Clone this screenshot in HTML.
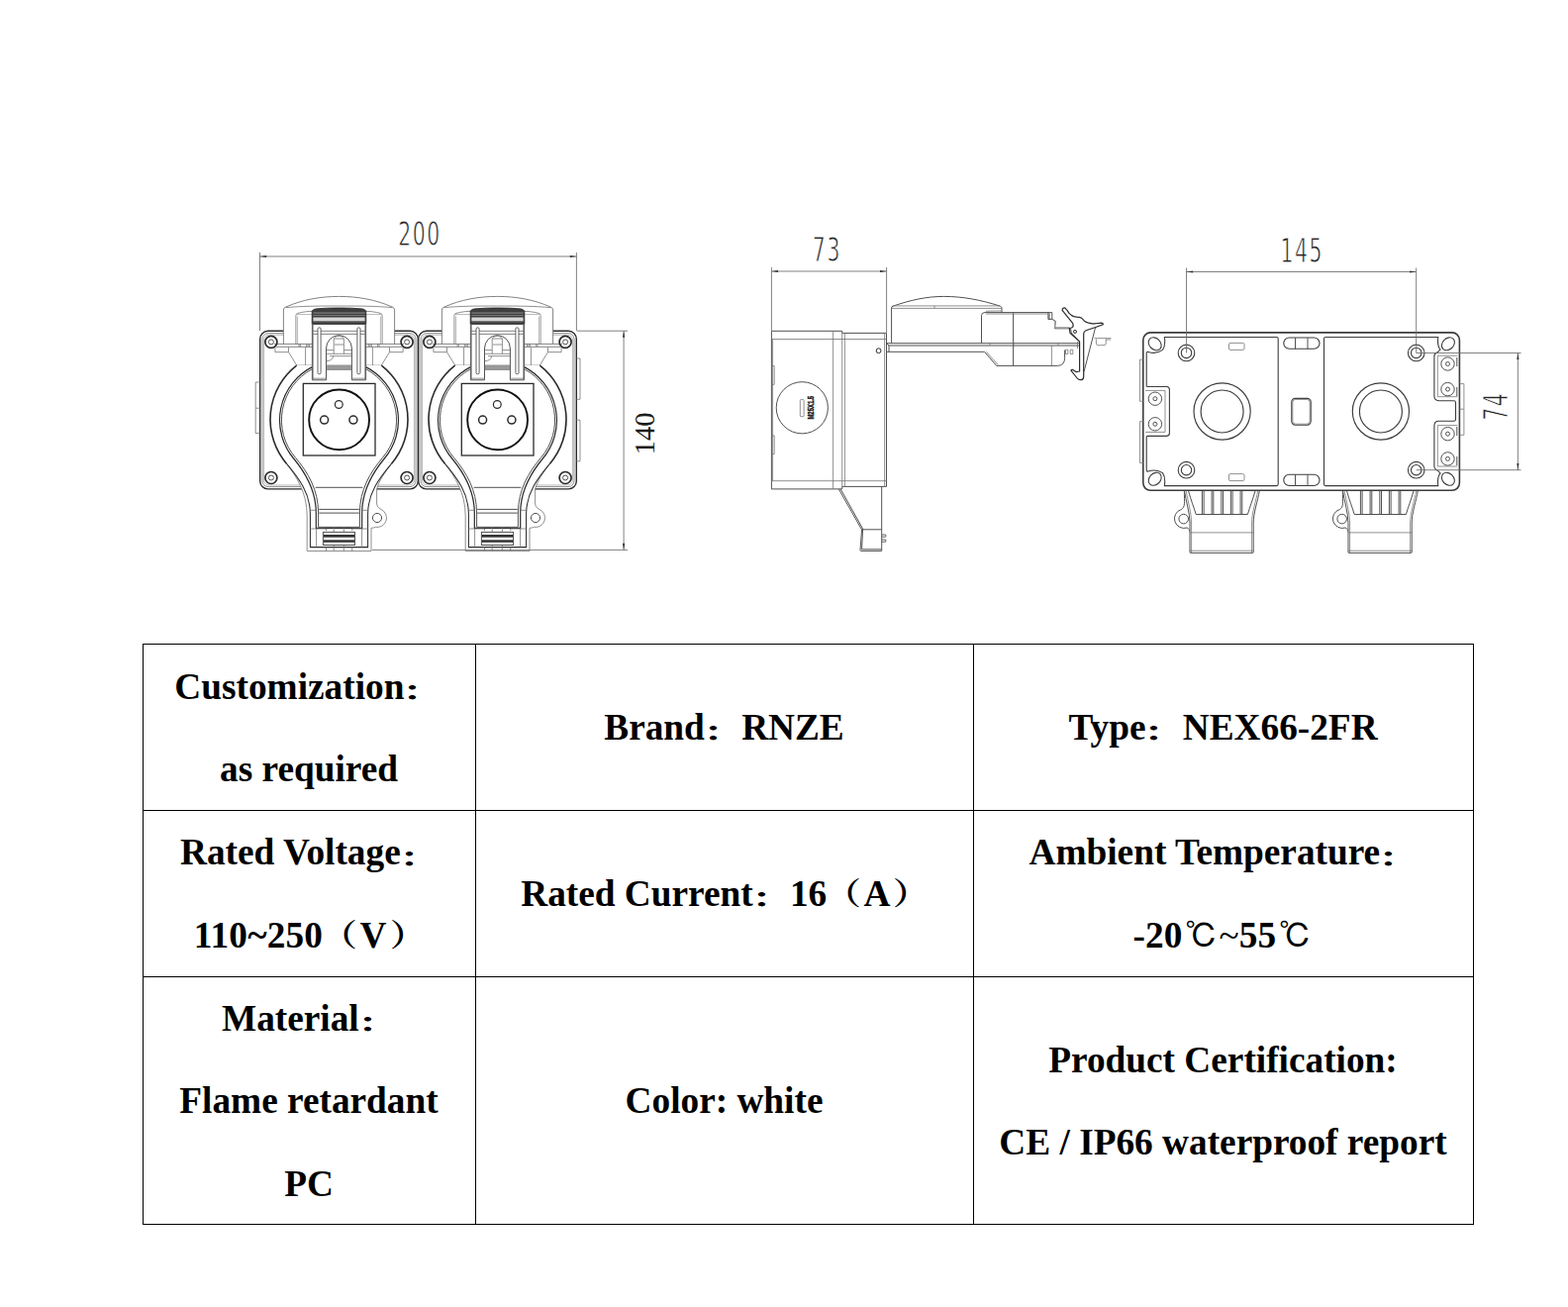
<!DOCTYPE html>
<html lang="en">
<head>
<meta charset="utf-8">
<title>NEX66-2FR dimensions and specifications</title>
<style>
html,body{margin:0;padding:0;background:#fff}
body{width:1584px;height:1320px;position:relative;overflow:hidden;font-family:"Liberation Serif","Noto Serif CJK SC",serif}
svg{position:absolute;left:0;top:0}
.k,.m,.t,.t2,.d{fill:none}
.k{stroke:#2b2b2b;stroke-width:1.4}
.m{stroke:#505050;stroke-width:1}
.t{stroke:#747474;stroke-width:.8}
.t2{stroke:#9a9a9a;stroke-width:.7}
.d{stroke:#6c6c6c;stroke-width:.85}
.bk .k{stroke:#3c3c3c}
.cad{font-family:"DejaVu Sans",sans-serif;fill:#262626;stroke:#fff;stroke-width:.9px}
.ser{font-family:"Liberation Serif",serif;fill:#1c1c1c}
table{position:absolute;left:144px;top:650px;border-collapse:collapse;table-layout:fixed;width:1345px}
td{border:1px solid #000;padding:0;text-align:center;vertical-align:top;font-weight:bold;font-size:37.3px;line-height:83px;color:#000;white-space:nowrap}
td div{height:83px;position:relative;top:.3px;left:-.5px}
td div.a1{top:.9px}
td div.l1{top:0}
td div.l2{top:-.1px}
td.u div{top:-.3px;left:-.5px}
td.u2 div{top:.5px;left:-.5px}
.c,.p,.q,.g{font-family:"Noto Serif CJK SC","Noto Sans CJK SC",serif;display:inline-block;width:37.3px;text-align:left;line-height:1;position:relative;transform-origin:0 50%}
.c{font-size:25px;transform:translateX(-2.3px) scaleX(1.6);top:1.3px}
.p,.q{font-size:31px;top:-2px}
.p{transform:translateX(-2.2px) scaleX(1.2)}
.q{transform:translateX(2.7px) scaleX(1.2)}
.g{font-family:"IPAGothic","WenQuanYi Zen Hei","Noto Sans CJK SC",sans-serif;font-weight:normal;font-size:33px;top:0px;transform:translateX(3px)}
.n{font-weight:normal}
</style>
</head>
<body>
<svg width="1584" height="640" viewBox="0 0 1584 640">
<g id="front">
<g id="sock1">
<rect class="k" x="262.7" y="334.3" width="159.6" height="159.6" rx="8"/>
<rect class="t" x="265" y="336.6" width="155" height="155" rx="6"/>
<rect class="t2" x="266.6" y="338.2" width="151.8" height="151.8" rx="5"/>
<path class="t" d="M289.6,468.4 C299,481 310.2,497 310.2,521 V556.5 H375 V533.3 Q377.4,533.2 379.4,532.3 A9.4,9.4 0 0 0 385,514.5 Q380.6,512.4 380.6,508 V494 C382.5,486 389,477 395.4,468.4 Z" style="fill:#fff"/>
<circle class="m" cx="381" cy="523" r="4.6"/>
<path class="t" d="M286.4,347.4 V313 Q286.4,310.9 288.6,310.1 C306,302.4 324,299.4 342.5,299.4 C361,299.4 379,302.4 396.4,310.1 Q398.6,310.9 398.6,313 V347.4" style="stroke-width:.9;fill:#fff"/>
<path class="t" d="M288.5,310.6 C305,309.2 320,309 342.5,309 C365,309 380,309.2 396.5,310.6"/>
<path class="t" d="M298.9,347.4 V318.6 Q298.9,316.8 301,316.3 C306,315 311,314.4 315.4,314.3 M386.1,347.4 V318.6 Q386.1,316.8 384,316.3 C379,315 374,314.4 369.6,314.3"/>
<path class="t2" d="M300.6,347.4 V319.5 M384.4,347.4 V319.5 M300,317.6 H315 M370,317.6 H385"/>
<path d="M315.2,327.3 V314.2 Q316,312.4 319,311.9 C334,310.6 351,310.6 366,311.9 Q369,312.4 369.8,314.2 V327.3 Z" style="fill:#3e3e3e;stroke:#222;stroke-width:.8"/>
<rect x="316.4" y="320.5" width="52.2" height="3.6" style="fill:#d6d6d6"/>
<rect x="316.4" y="315.6" width="52.2" height=".9" style="fill:#9a9a9a"/>
<rect x="316.4" y="318" width="52.2" height=".8" style="fill:#8a8a8a"/>
<rect x="316.4" y="324.1" width="52.2" height="1.2" style="fill:#777"/>
<path class="t" d="M277.0,347.4 H315.4 M279.0,350.3 H315.4" style="stroke-width:.9"/>
<path class="t" d="M277.9,350.8 V355.6 H291.5 L299.8,369.1 H315.4 M308.6,350.8 V369.1"/>
<path class="t" d="M291.5,350.8 V355.6 M302.0,347.4 V350.3 M303.4,347.4 V350.3 M309.6,347.4 V350.3 M311.0,347.4 V350.3 M312.4,347.4 V350.3"/>
<path class="t" d="M408.0,347.4 H369.6 M406.0,350.3 H369.6" style="stroke-width:.9"/>
<path class="t" d="M407.1,350.8 V355.6 H393.5 L385.2,369.1 H369.6 M376.4,350.8 V369.1"/>
<path class="t" d="M393.5,350.8 V355.6 M383.0,347.4 V350.3 M381.6,347.4 V350.3 M375.4,347.4 V350.3 M374.0,347.4 V350.3 M372.6,347.4 V350.3"/>
<path d="M299.6,369.1 A69,69 0 0 0 289.6,468.4 C301.5,482.5 313.4,498 313.4,519 V552.6 H371.6 V519 C371.6,498 383.5,482.5 395.4,468.4 A69,69 0 0 0 385.4,369.1 Z" style="fill:#fff;stroke:none"/>
<path class="k" d="M299.6,369.1 A69,69 0 0 0 289.6,468.4 M395.4,468.4 A69,69 0 0 0 385.4,369.1" style="stroke-width:1.6"/>
<path class="k" d="M289.6,468.4 C301.5,482.5 313.4,498 313.4,519 V552.6 H371.6 V519 C371.6,498 383.5,482.5 395.4,468.4" style="stroke-width:1.05"/>
<path class="k" d="M315.4,370.6 A60.3,60.3 0 0 0 297,463.5 C309,478 319.3,495 319.3,518 V533.4 H365.7 V518 C365.7,495 376,478 388,463.5 A60.3,60.3 0 0 0 369.6,370.6" style="stroke-width:1.2"/>
<path class="m" d="M315.4,372.7 A58.4,58.4 0 0 0 298.8,462.6 C311,477 321.6,495 321.6,518 V532.3 H363.4 V518 C363.4,495 374,477 386.2,462.6 A58.4,58.4 0 0 0 369.6,372.7"/>
<path class="m" d="M315.4,327.5 H369.6 V383.8 H355.4 V352 A12.95,13.4 0 0 0 329.5,352 V383.8 H315.4 Z" style="fill:#fff"/>
<path class="t" d="M316.3,328 V383 M368.7,328 V383 M315.4,382.2 H329.5 M355.4,382.2 H369.6"/>
<path class="t" d="M315.4,334.3 H321 M324.1,334.3 H360.9 M364,334.3 H369.6 M315.4,337.4 H321 M324.1,337.4 H360.9 M364,337.4 H369.6" style="stroke-width:.9"/>
<rect class="m" x="321" y="330.9" width="3.1" height="46.8" rx="1.2" style="stroke-width:.9"/>
<rect class="m" x="360.9" y="330.9" width="3.1" height="46.8" rx="1.2" style="stroke-width:.9"/>
<path class="t" d="M337.2,357.3 V343 Q337.2,339.4 342.4,339.4 Q347.4,339.4 347.4,343 V357.3 M337.5,342 H347.2 M338,348 H347 M329.5,353.6 H337.2 M347.4,353.6 H355.4 M329.5,357.3 H355.4 M333,359.6 H355.4 M329.5,364.6 Q336,364.6 336.6,359.6"/>
<rect x="329.9" y="369.2" width="25.1" height="4" style="fill:#9a9a9a"/>
<path class="t" d="M329.5,369 H355.4 M329.5,373.4 H355.4"/>
<rect class="k" x="306.3" y="387.4" width="72.7" height="72.6" style="stroke-width:1.3;fill:#fff"/>
<circle cx="342.6" cy="423.9" r="30.4" style="stroke:#111;stroke-width:1.9;fill:none"/>
<circle class="k" cx="342.3" cy="408.5" r="3.9" style="stroke-width:1.2"/>
<circle class="k" cx="327.6" cy="424.1" r="4" style="stroke-width:1.5"/>
<circle class="k" cx="356.9" cy="424.1" r="4" style="stroke-width:1.5"/>
<circle class="k" cx="273.9" cy="345.4" r="6" style="stroke-width:1.7"/>
<circle class="m" cx="273.9" cy="345.4" r="2.5"/>
<circle class="k" cx="411.1" cy="345.4" r="6" style="stroke-width:1.7"/>
<circle class="m" cx="411.1" cy="345.4" r="2.5"/>
<circle class="k" cx="273.9" cy="482.5" r="6" style="stroke-width:1.7"/>
<circle class="m" cx="273.9" cy="482.5" r="2.5"/>
<circle class="k" cx="411.1" cy="482.5" r="6" style="stroke-width:1.7"/>
<circle class="m" cx="411.1" cy="482.5" r="2.5"/>
<path class="m" d="M318.7,492.3 H366.3 M322.2,514.4 H362.8 M322.2,518.1 H362.8"/>
<path class="t" d="M313.4,515.3 H319.3 M365.7,515.3 H371.6 M313.4,534 H329.5 V536 M371.6,534 H355.7 V536 M319.6,534 V552.6 M365.6,534 V552.6 M337.2,532.4 V537.4 M347.4,532.4 V537.4 M337.2,550.5 V556.5 M347.4,550.5 V556.5 M329.5,552.6 V556.5 M355.7,552.6 V556.5"/>
<rect class="m" x="326.4" y="537.4" width="32.1" height="13.1" style="fill:#fff"/>
<rect x="326.9" y="540" width="31.1" height="2.7" style="fill:#333"/>
<rect x="326.9" y="545.3" width="31.1" height="2.5" style="fill:#333"/>
</g>
<g transform="translate(160,0)">
<rect class="k" x="262.7" y="334.3" width="159.6" height="159.6" rx="8"/>
<rect class="t" x="265" y="336.6" width="155" height="155" rx="6"/>
<rect class="t2" x="266.6" y="338.2" width="151.8" height="151.8" rx="5"/>
<path class="t" d="M289.6,468.4 C299,481 310.2,497 310.2,521 V556.5 H375 V533.3 Q377.4,533.2 379.4,532.3 A9.4,9.4 0 0 0 385,514.5 Q380.6,512.4 380.6,508 V494 C382.5,486 389,477 395.4,468.4 Z" style="fill:#fff"/>
<circle class="m" cx="381" cy="523" r="4.6"/>
<path class="t" d="M286.4,347.4 V313 Q286.4,310.9 288.6,310.1 C306,302.4 324,299.4 342.5,299.4 C361,299.4 379,302.4 396.4,310.1 Q398.6,310.9 398.6,313 V347.4" style="stroke-width:.9;fill:#fff"/>
<path class="t" d="M288.5,310.6 C305,309.2 320,309 342.5,309 C365,309 380,309.2 396.5,310.6"/>
<path class="t" d="M298.9,347.4 V318.6 Q298.9,316.8 301,316.3 C306,315 311,314.4 315.4,314.3 M386.1,347.4 V318.6 Q386.1,316.8 384,316.3 C379,315 374,314.4 369.6,314.3"/>
<path class="t2" d="M300.6,347.4 V319.5 M384.4,347.4 V319.5 M300,317.6 H315 M370,317.6 H385"/>
<path d="M315.2,327.3 V314.2 Q316,312.4 319,311.9 C334,310.6 351,310.6 366,311.9 Q369,312.4 369.8,314.2 V327.3 Z" style="fill:#3e3e3e;stroke:#222;stroke-width:.8"/>
<rect x="316.4" y="320.5" width="52.2" height="3.6" style="fill:#d6d6d6"/>
<rect x="316.4" y="315.6" width="52.2" height=".9" style="fill:#9a9a9a"/>
<rect x="316.4" y="318" width="52.2" height=".8" style="fill:#8a8a8a"/>
<rect x="316.4" y="324.1" width="52.2" height="1.2" style="fill:#777"/>
<path class="t" d="M277.0,347.4 H315.4 M279.0,350.3 H315.4" style="stroke-width:.9"/>
<path class="t" d="M277.9,350.8 V355.6 H291.5 L299.8,369.1 H315.4 M308.6,350.8 V369.1"/>
<path class="t" d="M291.5,350.8 V355.6 M302.0,347.4 V350.3 M303.4,347.4 V350.3 M309.6,347.4 V350.3 M311.0,347.4 V350.3 M312.4,347.4 V350.3"/>
<path class="t" d="M408.0,347.4 H369.6 M406.0,350.3 H369.6" style="stroke-width:.9"/>
<path class="t" d="M407.1,350.8 V355.6 H393.5 L385.2,369.1 H369.6 M376.4,350.8 V369.1"/>
<path class="t" d="M393.5,350.8 V355.6 M383.0,347.4 V350.3 M381.6,347.4 V350.3 M375.4,347.4 V350.3 M374.0,347.4 V350.3 M372.6,347.4 V350.3"/>
<path d="M299.6,369.1 A69,69 0 0 0 289.6,468.4 C301.5,482.5 313.4,498 313.4,519 V552.6 H371.6 V519 C371.6,498 383.5,482.5 395.4,468.4 A69,69 0 0 0 385.4,369.1 Z" style="fill:#fff;stroke:none"/>
<path class="k" d="M299.6,369.1 A69,69 0 0 0 289.6,468.4 M395.4,468.4 A69,69 0 0 0 385.4,369.1" style="stroke-width:1.6"/>
<path class="k" d="M289.6,468.4 C301.5,482.5 313.4,498 313.4,519 V552.6 H371.6 V519 C371.6,498 383.5,482.5 395.4,468.4" style="stroke-width:1.05"/>
<path class="k" d="M315.4,370.6 A60.3,60.3 0 0 0 297,463.5 C309,478 319.3,495 319.3,518 V533.4 H365.7 V518 C365.7,495 376,478 388,463.5 A60.3,60.3 0 0 0 369.6,370.6" style="stroke-width:1.2"/>
<path class="m" d="M315.4,372.7 A58.4,58.4 0 0 0 298.8,462.6 C311,477 321.6,495 321.6,518 V532.3 H363.4 V518 C363.4,495 374,477 386.2,462.6 A58.4,58.4 0 0 0 369.6,372.7"/>
<path class="m" d="M315.4,327.5 H369.6 V383.8 H355.4 V352 A12.95,13.4 0 0 0 329.5,352 V383.8 H315.4 Z" style="fill:#fff"/>
<path class="t" d="M316.3,328 V383 M368.7,328 V383 M315.4,382.2 H329.5 M355.4,382.2 H369.6"/>
<path class="t" d="M315.4,334.3 H321 M324.1,334.3 H360.9 M364,334.3 H369.6 M315.4,337.4 H321 M324.1,337.4 H360.9 M364,337.4 H369.6" style="stroke-width:.9"/>
<rect class="m" x="321" y="330.9" width="3.1" height="46.8" rx="1.2" style="stroke-width:.9"/>
<rect class="m" x="360.9" y="330.9" width="3.1" height="46.8" rx="1.2" style="stroke-width:.9"/>
<path class="t" d="M337.2,357.3 V343 Q337.2,339.4 342.4,339.4 Q347.4,339.4 347.4,343 V357.3 M337.5,342 H347.2 M338,348 H347 M329.5,353.6 H337.2 M347.4,353.6 H355.4 M329.5,357.3 H355.4 M333,359.6 H355.4 M329.5,364.6 Q336,364.6 336.6,359.6"/>
<rect x="329.9" y="369.2" width="25.1" height="4" style="fill:#9a9a9a"/>
<path class="t" d="M329.5,369 H355.4 M329.5,373.4 H355.4"/>
<rect class="k" x="306.3" y="387.4" width="72.7" height="72.6" style="stroke-width:1.3;fill:#fff"/>
<circle cx="342.6" cy="423.9" r="30.4" style="stroke:#111;stroke-width:1.9;fill:none"/>
<circle class="k" cx="342.3" cy="408.5" r="3.9" style="stroke-width:1.2"/>
<circle class="k" cx="327.6" cy="424.1" r="4" style="stroke-width:1.5"/>
<circle class="k" cx="356.9" cy="424.1" r="4" style="stroke-width:1.5"/>
<circle class="k" cx="273.9" cy="345.4" r="6" style="stroke-width:1.7"/>
<circle class="m" cx="273.9" cy="345.4" r="2.5"/>
<circle class="k" cx="411.1" cy="345.4" r="6" style="stroke-width:1.7"/>
<circle class="m" cx="411.1" cy="345.4" r="2.5"/>
<circle class="k" cx="273.9" cy="482.5" r="6" style="stroke-width:1.7"/>
<circle class="m" cx="273.9" cy="482.5" r="2.5"/>
<circle class="k" cx="411.1" cy="482.5" r="6" style="stroke-width:1.7"/>
<circle class="m" cx="411.1" cy="482.5" r="2.5"/>
<path class="m" d="M318.7,492.3 H366.3 M322.2,514.4 H362.8 M322.2,518.1 H362.8"/>
<path class="t" d="M313.4,515.3 H319.3 M365.7,515.3 H371.6 M313.4,534 H329.5 V536 M371.6,534 H355.7 V536 M319.6,534 V552.6 M365.6,534 V552.6 M337.2,532.4 V537.4 M347.4,532.4 V537.4 M337.2,550.5 V556.5 M347.4,550.5 V556.5 M329.5,552.6 V556.5 M355.7,552.6 V556.5"/>
<rect class="m" x="326.4" y="537.4" width="32.1" height="13.1" style="fill:#fff"/>
<rect x="326.9" y="540" width="31.1" height="2.7" style="fill:#333"/>
<rect x="326.9" y="545.3" width="31.1" height="2.5" style="fill:#333"/>
</g>
<path class="t" d="M262.7,386 H258.2 V437.6 H262.7 M258.2,412.2 H262.7"/>
<path class="t" d="M582.3,362 H586 V403.3 H582.3 M582.3,424.2 H586 V465.8 H582.3"/>
</g>
<g id="side">
<path class="m" d="M779.4,334.3 H850.7 V336.4 H895.5 V491.4 H850.7 V493.9 H779.4 Z"/>
<path class="t" d="M779.4,342.5 H895.5 M779.4,485.7 H895.5 M841.6,334.3 V493.9 M850.7,336.4 V491.4 M853.4,336.4 V491.4 M893.6,336.4 V491.4 M780.6,342.5 V485.7"/>
<path class="t" d="M779.4,369.5 H782.2 V388.3 H779.4 M779.4,439.9 H782.2 V458.6 H779.4"/>
<circle class="m" cx="810.3" cy="411.8" r="26.1"/>
<rect class="t" x="808.3" y="403.6" width="3.8" height="17.1" rx=".8"/>
<text transform="translate(821.6,423.6) rotate(-90) scale(.62,1)" font-family="'Liberation Sans',sans-serif" font-weight="bold" font-size="9.6" style="fill:#111;stroke:#111;stroke-width:.45">M25X1.5</text>
<circle class="k" cx="887.6" cy="354.2" r="2.4" style="stroke-width:1"/>
<path class="m" d="M847.3,493.9 L870.6,535 M849.2,493.9 L872,534.8 M870.6,535 L869,555.5 Q869,556.4 870,556.4 H890.7 V491.4 M870.6,534.8 H890.7 M871.5,535 L870.6,554.8 H890.7"/>
<path class="m" d="M890.7,540 H894.6 Q895.4,541 894.6,542.2 H890.7 M890.7,545 H894.6 Q895.4,546 894.6,547.2 H890.7" style="stroke-width:.9"/>
<path class="m" d="M900.6,346.7 V311 Q900.6,309.6 902,309.2 C920,303 936,299.4 953.6,299.4 C972,299.4 990,302.6 1010.5,309.2 Q1012,309.8 1012,311.4 V315.6"/>
<path class="t" d="M901.5,308.9 H1010 M900.6,311.4 H1012 M944,308.9 V311.4"/>
<path class="m" d="M991.5,346.7 V318.5 Q991.5,315.6 995,315.6 H1062.8 V322.4 H1058.9 V315.6 M1060,316.2 V322.4 M1062.8,322.4 L1066.2,324.2 L1065.6,331.8 H1080.2 M1023.6,315.6 V369.4"/>
<path class="t" d="M996,317 H1058.9 M996,314.4 Q998,314 1012,314"/>
<path d="M1066,331 H1080" style="stroke:#999;stroke-width:1.6;fill:none"/>
<path d="M1065.6,324.5 V331" style="stroke:#999;stroke-width:1.2;fill:none"/>
<path class="m" d="M895.6,346.7 H1090.6 M898,349 H1090.6 M895.6,346.7 L898,349 V355.3 M895.6,355.3 H994.5 L1006.7,369.4 H1068.5 Q1075.6,369 1075.6,361.5 V353.5"/>
<path class="t" d="M996.4,355.3 L1008.2,368.6 M1062.4,349 V369.4 M1000,347 V349 M1024,347 V349 M1069,347 V349 M1088.5,345 V352"/>
<path class="t" d="M1076.5,353.2 H1078.8 V357.6 H1076.5 Z M1081.2,353.2 H1083.8 V357.6 H1081.2 Z"/>
<path class="k" d="M1073.1,313.3 Q1073.5,310.5 1075.8,310.9 L1078.2,313.6 L1080,316.4 L1082.3,318.4 L1084.6,319.6 L1087.7,320.1 L1090,320.3 L1092.5,321.1 L1094,322.6 L1095.2,323.9 L1097.5,325.4 L1100,326.2 L1103,326.8 L1105.5,326.9 L1109,326.5 L1112.3,326.2 Q1114.8,326.4 1114.3,327.8 L1108.2,330 L1097,333.8 Q1094.8,334.6 1094.7,337 V380.2 Q1094.6,383.6 1092.3,383.6 Q1089.6,383.8 1088.2,382 L1081.9,374.2 Q1082.4,373 1083.8,373.4 L1087,375.6 L1090.6,375 V345 L1081,336.2 L1080.3,331.4 L1082.6,331 L1084.2,329.6 L1083.8,326.6 Z" style="stroke-width:1.2;stroke-linejoin:round"/>
<path class="m" d="M1106.6,330.6 L1095,375.5 M1081.6,332 L1082.2,336 L1089.5,343.5"/>
<circle class="k" cx="1086" cy="334.9" r="1.5" style="stroke-width:1"/>
<path class="t" d="M1105.5,341.6 H1122.5 M1107.4,342.4 V347 Q1107.6,348.7 1109.4,348.7 H1115 Q1117,348.7 1117.2,347 V342.4 M1117.2,343 H1122"/>
</g>
<g id="back" class="bk">
<g>
<path class="m" d="M1196.4,495.3 C1196.4,508 1197.6,512 1193.2,514.6 A9.3,9.3 0 1 0 1199,533 C1200.6,533.2 1201.6,535 1202.4,537.7" style="fill:#fff"/>
<circle class="m" cx="1195.7" cy="524.1" r="4.8"/>
<path class="m" d="M1196.4,495.3 C1198,506 1202,518 1202,528 V558 Q1202,558.4 1203,558.4 H1265.2 Q1266.2,558.4 1266.2,558 V528 C1266.2,518 1270.6,506 1272.4,495.3" style="fill:#fff"/>
<path class="t" d="M1198,495.3 C1200,506 1203.6,518 1203.6,528 V558 M1270.8,495.3 C1268.8,506 1264.6,518 1264.6,528 V558 M1202,537.9 H1266.2 M1202,556.2 H1266.2"/>
<path class="m" d="M1200.4,495.3 C1203,505 1206,512 1208.2,519.5 H1260.4 C1262.6,512 1265.4,505 1268.2,495.3"/>
<path class="m" d="M1214.4,495.3 V519.5 M1216.1,495.3 V519.5 M1224.1,495.3 V519.5 M1225.8,495.3 V519.5 M1233.8,495.3 V519.5 M1235.5,495.3 V519.5 M1243.4,495.3 V519.5 M1245.1,495.3 V519.5 M1253.1,495.3 V519.5 M1254.8,495.3 V519.5"/>
</g>
<g transform="translate(160,0)">
<path class="m" d="M1196.4,495.3 C1196.4,508 1197.6,512 1193.2,514.6 A9.3,9.3 0 1 0 1199,533 C1200.6,533.2 1201.6,535 1202.4,537.7" style="fill:#fff"/>
<circle class="m" cx="1195.7" cy="524.1" r="4.8"/>
<path class="m" d="M1196.4,495.3 C1198,506 1202,518 1202,528 V558 Q1202,558.4 1203,558.4 H1265.2 Q1266.2,558.4 1266.2,558 V528 C1266.2,518 1270.6,506 1272.4,495.3" style="fill:#fff"/>
<path class="t" d="M1198,495.3 C1200,506 1203.6,518 1203.6,528 V558 M1270.8,495.3 C1268.8,506 1264.6,518 1264.6,528 V558 M1202,537.9 H1266.2 M1202,556.2 H1266.2"/>
<path class="m" d="M1200.4,495.3 C1203,505 1206,512 1208.2,519.5 H1260.4 C1262.6,512 1265.4,505 1268.2,495.3"/>
<path class="m" d="M1214.4,495.3 V519.5 M1216.1,495.3 V519.5 M1224.1,495.3 V519.5 M1225.8,495.3 V519.5 M1233.8,495.3 V519.5 M1235.5,495.3 V519.5 M1243.4,495.3 V519.5 M1245.1,495.3 V519.5 M1253.1,495.3 V519.5 M1254.8,495.3 V519.5"/>
</g>
<rect class="k" x="1154.8" y="335.9" width="319.6" height="159.4" rx="7.5" style="stroke-width:1.6;fill:#fff"/>
<path class="t" d="M1154.8,363.2 H1151.4 V405.2 H1154.8 M1154.8,425.7 H1151.4 V467.4 H1154.8"/>
<path class="t" d="M1474.4,387.6 H1478.9 V439.3 H1474.4 M1474.4,413.2 H1478.9"/>
<path class="k" d="M1176.4,340.5 H1289.6 Q1291.2,340.5 1291.2,342 V489 Q1291.2,490.6 1289.6,490.6 H1176.4 Q1177.6,482 1174.5,477.6 Q1168,473.4 1160,476 Q1158.2,476.6 1158.2,474 V441.6 Q1158.2,440.4 1159.4,440.4 H1178.6 Q1181.4,440.2 1181.4,437.6 V393.4 Q1181.4,390.6 1178.6,390.5 H1159.4 Q1158.2,390.5 1158.2,389.4 V357 Q1158.2,355 1160,355.4 Q1168,358 1174.5,353.4 Q1177.6,349 1176.4,340.5 Z" style="stroke-width:1.1"/>
<path class="t" d="M1157,394.4 H1177 V436.4 H1157"/>
<circle class="m" cx="1166.9" cy="402.7" r="6.7"/><circle class="m" cx="1166.9" cy="402.7" r="2"/>
<circle class="m" cx="1166.9" cy="428.3" r="6.7"/><circle class="m" cx="1166.9" cy="428.3" r="2"/>
<ellipse class="k" cx="1166.7" cy="347.3" rx="5.6" ry="7.3" transform="rotate(-45 1166.7 347.3)" style="stroke-width:1.1"/>
<ellipse class="k" cx="1462.9" cy="347.3" rx="5.6" ry="7.3" transform="rotate(45 1462.9 347.3)" style="stroke-width:1.1"/>
<ellipse class="k" cx="1166.7" cy="483.8" rx="5.6" ry="7.3" transform="rotate(45 1166.7 483.8)" style="stroke-width:1.1"/>
<ellipse class="k" cx="1462.9" cy="483.8" rx="5.6" ry="7.3" transform="rotate(-45 1462.9 483.8)" style="stroke-width:1.1"/>
<circle class="k" cx="1198.5" cy="356.4" r="8.3" style="stroke-width:1.1"/><circle class="k" cx="1198.5" cy="356.4" r="5.2" style="stroke-width:1.1"/>
<circle class="k" cx="1430.7" cy="356.4" r="8.3" style="stroke-width:1.1"/><circle class="k" cx="1430.7" cy="356.4" r="5.2" style="stroke-width:1.1"/>
<circle class="k" cx="1198.5" cy="474.7" r="8.3" style="stroke-width:1.1"/><circle class="k" cx="1198.5" cy="474.7" r="5.2" style="stroke-width:1.1"/>
<circle class="k" cx="1430.7" cy="474.7" r="8.3" style="stroke-width:1.1"/><circle class="k" cx="1430.7" cy="474.7" r="5.2" style="stroke-width:1.1"/>
<rect class="t" x="1241.5" y="346.4" width="15.5" height="7" rx="1.4"/>
<rect class="t" x="1241.5" y="478.6" width="15.5" height="7" rx="1.4"/>
<circle class="k" cx="1234.6" cy="415.5" r="28.6" style="stroke-width:1.15"/><circle class="k" cx="1234.6" cy="415.5" r="21.5" style="stroke-width:1.15"/>
<circle class="k" cx="1394.9" cy="415.5" r="28.6" style="stroke-width:1.15"/><circle class="k" cx="1394.9" cy="415.5" r="21.5" style="stroke-width:1.15"/>
<rect class="k" x="1296.8" y="341" width="36.2" height="11.3" rx="5.6" style="stroke-width:1.1"/>
<path class="m" d="M1308.5,341 v11.3 M1321,341 v11.3"/>
<rect class="k" x="1296.8" y="479.2" width="36.2" height="11.3" rx="5.6" style="stroke-width:1.1"/>
<path class="m" d="M1308.5,479.2 v11.3 M1321,479.2 v11.3"/>
<rect class="k" x="1304.8" y="402.4" width="19.4" height="26.8" rx="3.6" style="stroke-width:1.1"/>
<rect class="t" x="1305.8" y="403.4" width="17.4" height="24.8" rx="3"/>
<path class="k" d="M1452.8,340.5 H1339.1 Q1337.5,340.5 1337.5,342 V489 Q1337.5,490.6 1339.1,490.6 H1452.8 Q1451.6,482 1455,477.8 Q1452.5,475 1451,474.4 Q1448.9,473.6 1448.9,471 V430 Q1448.9,425.2 1453.5,425.2 H1468.6 Q1470.5,425.2 1470.5,423.4 V406.4 Q1470.5,404.7 1468.6,404.7 H1453.5 Q1448.9,404.7 1448.9,399.8 V360 Q1448.9,357 1451,356.4 Q1452.5,355.8 1455,353.2 Q1451.6,349 1452.8,340.5 Z" style="stroke-width:1.1"/>
<path class="t" d="M1472.4,359.2 H1452.3 V400.7 H1472.4 M1472.4,429.6 H1452.3 V471 H1472.4"/>
<path class="m" d="M1471.8,361 V370 M1471.8,391 V400 M1471.8,431 V440 M1471.8,461 V470"/>
<circle class="m" cx="1462.5" cy="367.5" r="6.7"/><circle class="m" cx="1462.5" cy="367.5" r="2"/>
<circle class="m" cx="1462.5" cy="393.1" r="6.7"/><circle class="m" cx="1462.5" cy="393.1" r="2"/>
<circle class="m" cx="1462.5" cy="438.2" r="6.7"/><circle class="m" cx="1462.5" cy="438.2" r="2"/>
<circle class="m" cx="1462.5" cy="463.4" r="6.7"/><circle class="m" cx="1462.5" cy="463.4" r="2"/>
</g>
<g id="dims">
<path class="d" d="M262.5,259 H582.4 M262.5,255 V334 M582.4,255 V334"/><polygon points="262.5,259 269.1,257.9 269.1,260.1" style="fill:#333;stroke:none"/><polygon points="582.4,259 575.8,257.9 575.8,260.1" style="fill:#333;stroke:none"/>
<path class="d" d="M630.1,334.2 V555.4 M583,334.2 H634 M376,555.4 H634"/><polygon points="630.1,334.2 629.0,340.8 631.2,340.8" style="fill:#333;stroke:none"/><polygon points="630.1,555.4 629.0,548.8 631.2,548.8" style="fill:#333;stroke:none"/>
<path class="d" d="M779.4,274 H895.6 M779.4,270 V334 M895.6,270 V336"/><polygon points="779.4,274 786.0,272.9 786.0,275.1" style="fill:#333;stroke:none"/><polygon points="895.6,274 889.0,272.9 889.0,275.1" style="fill:#333;stroke:none"/>
<path class="d" d="M1198.5,274.5 H1430.7 M1198.5,270.5 V356.4 M1430.7,270.5 V356.4"/><polygon points="1198.5,274.5 1205.1,273.4 1205.1,275.6" style="fill:#333;stroke:none"/><polygon points="1430.7,274.5 1424.1000000000001,273.4 1424.1000000000001,275.6" style="fill:#333;stroke:none"/>
<path class="d" d="M1533.4,356.5 V474.7 M1430.7,356.5 H1536.5 M1430.7,474.7 H1536.5"/><polygon points="1533.4,356.5 1532.3000000000002,363.1 1534.5,363.1" style="fill:#333;stroke:none"/><polygon points="1533.4,474.7 1532.3000000000002,468.09999999999997 1534.5,468.09999999999997" style="fill:#333;stroke:none"/>
<text class="cad" transform="translate(424,248.3) scale(0.6,1)" text-anchor="middle" font-size="34" letter-spacing="2.6">200</text>
<text class="cad" transform="translate(835.4,263.8) scale(0.6,1)" text-anchor="middle" font-size="34" letter-spacing="2.6">73</text>
<text class="cad" transform="translate(1315.3,265) scale(0.6,1)" text-anchor="middle" font-size="34" letter-spacing="2.6">145</text>
<text class="cad" transform="translate(1522.8,410.2) rotate(-90) scale(0.6,1)" text-anchor="middle" font-size="34" letter-spacing="2.6">74</text>
<text class="ser" transform="translate(661.4,437.9) rotate(-90) scale(.95,1)" text-anchor="middle" font-size="30">140</text>
</g>
</svg>
<table>
<colgroup><col style="width:336px"><col style="width:503px"><col style="width:505px"></colgroup>
<tr style="height:168px">
<td><div class="a1" style="left:-1.5px">Customization<span class="c">：</span></div><div class="a1">as required</div></td>
<td class="u" style="vertical-align:middle"><div>Brand<span class="c">：</span>RNZE</div></td>
<td class="u" style="vertical-align:middle"><div>Type<span class="c">：</span>NEX66-2FR</div></td>
</tr>
<tr style="height:168px">
<td><div>Rated Voltage<span class="c">：</span></div><div class="a1" style="left:-.7px;letter-spacing:.17px">110~250<span class="p">（</span>V<span class="q">）</span></div></td>
<td class="u" style="vertical-align:middle"><div>Rated Current<span class="c">：</span>16<span class="p">（</span>A<span class="q">）</span></div></td>
<td><div>Ambient Temperature<span class="c">：</span></div><div class="a1">-20<span class="g">℃</span><span class="n">~</span>55<span class="g">℃</span></div></td>
</tr>
<tr style="height:250px">
<td><div class="l1">Material<span class="c">：</span></div><div class="l2">Flame retardant</div><div class="a1">PC</div></td>
<td class="u" style="vertical-align:middle"><div>Color: white</div></td>
<td class="u2" style="vertical-align:middle"><div>Product Certification:</div><div>CE / IP66 waterproof report</div></td>
</tr>
</table>

</body>
</html>
